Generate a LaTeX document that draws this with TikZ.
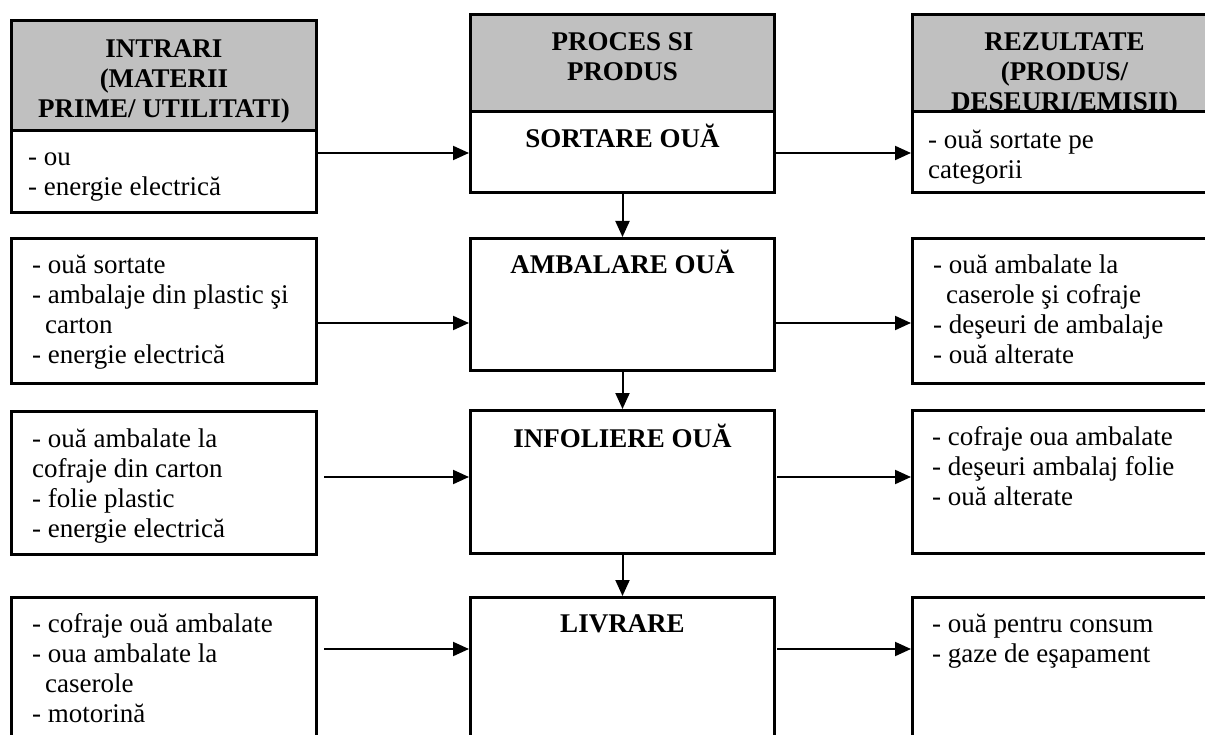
\documentclass[tikz,border=0pt]{standalone}
\usepackage{fontspec}
\setmainfont{Liberation Serif}
\usetikzlibrary{arrows.meta,positioning}
\definecolor{hdrgray}{RGB}{192,192,192}
\newcommand{\boxstrut}{\rule{0pt}{26pt}}

\begin{document}
\begin{tikzpicture}[x=1pt, y=-1pt,
		box/.style={draw, line width=3pt, fill=white, anchor=north west, inner sep=0pt, minimum width=304pt},
		hdr/.style={box, fill=hdrgray},
		txt/.style={inner sep=0pt, align=left, font=\fontsize{27}{30}\selectfont},
		htxt/.style={inner sep=0pt, align=center, font=\fontsize{27}{30}\selectfont\bfseries},
		arr/.style={line width=2pt, -{Triangle[length=16pt, width=14pt]}}]
	\clip (0, 0) rectangle (1205, 735);
	\fill[white] (0, 0) rectangle (1205, 735);

	\node[hdr, minimum width=305pt, minimum height=110pt] (inh) at (10, 19) {};
	\node[htxt, below=12pt of inh.north] (inht) {\boxstrut INTRARI\\(MATERII\\PRIME/ UTILITATI)};
	\node[box, minimum width=305pt, minimum height=82pt] (in1) at (10, 129) {};
	\node[box, minimum width=305pt, minimum height=145pt] (in2) at (10, 237) {};
	\node[box, minimum width=305pt, minimum height=143pt] (in3) at (10, 410) {};
	\node[box, minimum width=305pt, minimum height=200pt] (in4) at (10, 596) {};
	\begin{scope}
		\clip (in1.north west) rectangle ([yshift=10pt]in1.south east);
		\node[txt, below right=10pt and 18pt of in1.north west] (in1t) {\boxstrut- ou\\- energie electrică};
	\end{scope}
	\node[txt, below right=10pt and 22pt of in2.north west] (in2t) {\boxstrut- ouă sortate\\- ambalaje din plastic şi\\\hspace*{13pt}carton\\- energie electrică};
	\begin{scope}
		\clip (in3.north west) rectangle ([yshift=11pt]in3.south east);
		\node[txt, below right=11pt and 22pt of in3.north west] (in3t) {\boxstrut- ouă ambalate la\\cofraje din carton\\- folie plastic\\- energie electrică};
	\end{scope}
	\node[txt, below right=10pt and 22pt of in4.north west] (in4t) {\boxstrut- cofraje ouă ambalate\\- oua ambalate la\\\hspace*{13pt}caserole\\- motorină};

	\node[hdr, minimum height=97pt] (ph) at (469, 13) {};
	\node[htxt, below=11pt of ph.north] (pht) {\boxstrut PROCES SI\\PRODUS};
	\node[box, minimum height=81pt] (p1) at (469, 110) {};
	\node[box, minimum height=132pt] (p2) at (469, 237) {};
	\node[box, minimum height=143pt] (p3) at (469, 409) {};
	\node[box, minimum height=200pt] (p4) at (469, 596) {};
	\node[htxt, below=11pt of p1.north] (p1t) {\boxstrut SORTARE OUĂ};
	\node[htxt, below=10pt of p2.north] (p2t) {\boxstrut AMBALARE OUĂ};
	\node[htxt, below=12pt of p3.north] (p3t) {\boxstrut INFOLIERE OUĂ};
	\node[htxt, below=10pt of p4.north] (p4t) {\boxstrut LIVRARE};

	\node[hdr, minimum height=97pt] (oh) at (911, 13) {};
	\node[htxt, below=11pt of oh.north] (oht) {\boxstrut REZULTATE\\(PRODUS/\\DESEURI/EMISII)};
	\node[box, minimum height=81pt] (o1) at (911, 110) {};
	\node[box, minimum height=145pt] (o2) at (911, 237) {};
	\node[box, minimum height=143pt] (o3) at (911, 409) {};
	\node[box, minimum height=200pt] (o4) at (911, 596) {};
	\node[txt, below right=12pt and 17pt of o1.north west] (o1t) {\boxstrut- ouă sortate pe\\categorii};
	\node[txt, below right=10pt and 22pt of o2.north west] (o2t) {\boxstrut- ouă ambalate la\\\hspace*{13pt}caserole şi cofraje\\- deşeuri de ambalaje\\- ouă alterate};
	\node[txt, below right=10pt and 21pt of o3.north west] (o3t) {\boxstrut- cofraje oua ambalate\\- deşeuri ambalaj folie\\- ouă alterate};
	\node[txt, below right=10pt and 21pt of o4.north west] (o4t) {\boxstrut- ouă pentru consum\\- gaze de eşapament};

	\coordinate (r1) at (0, 153);
	\coordinate (r2) at (0, 323);
	\coordinate (a3) at (324, 477);
	\coordinate (b3) at (777, 477);
	\coordinate (a4) at (324, 649);
	\coordinate (b4) at (777, 649);

	\draw[arr] (in1.east |- r1) -- (p1.west |- r1);
	\draw[arr] (p1.east |- r1) -- (o1.west |- r1);
	\draw[arr] (in2.east |- r2) -- (p2.west |- r2);
	\draw[arr] (p2.east |- r2) -- (o2.west |- r2);
	\draw[arr] (a3) -- (p3.west |- a3);
	\draw[arr] (b3) -- (o3.west |- b3);
	\draw[arr] (a4) -- (p4.west |- a4);
	\draw[arr] (b4) -- (o4.west |- b4);

	\draw[arr] (p1.south) -- (p2.north);
	\draw[arr] (p2.south) -- (p3.north);
	\draw[arr] (p3.south) -- (p4.north);
\end{tikzpicture}
\end{document}
